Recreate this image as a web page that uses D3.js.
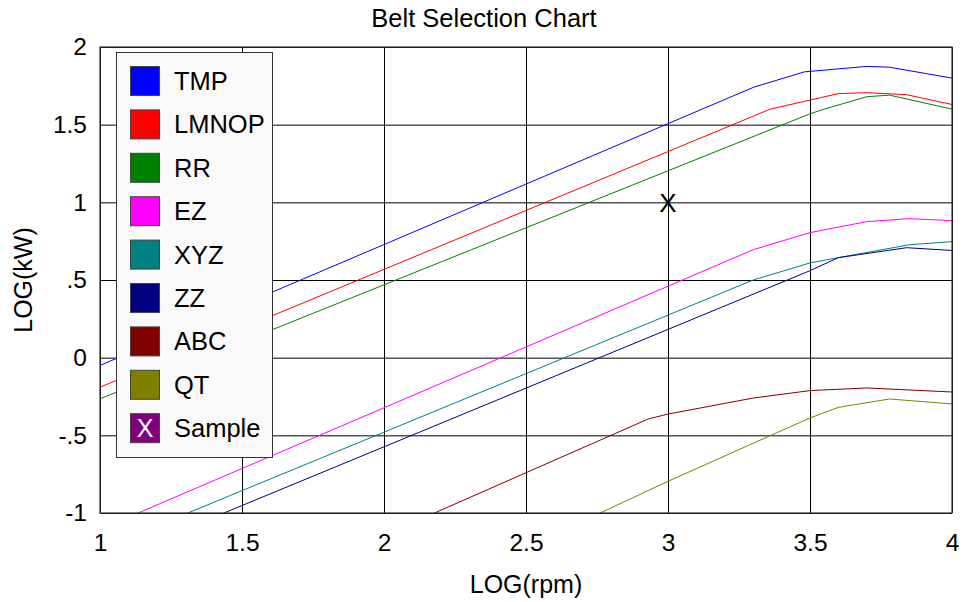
<!DOCTYPE html>
<html>
<head>
<meta charset="utf-8">
<script src="https://cdn.jsdelivr.net/npm/d3@7"></script>
<style>
  html, body { margin: 0; padding: 0; background: #fff; }
  svg { display: block; font-family: "Liberation Sans", Arial, sans-serif; }
</style>
</head>
<body>
<svg id="chart" width="964" height="602"></svg>
<script>
// ---- data ----
const seriesNames = ["TMP", "LMNOP", "RR", "EZ", "XYZ", "ZZ", "ABC", "QT"];
const seriesColors = ["#0000ff", "#ff0000", "#008000", "#ff00ff", "#008080", "#000080", "#800000", "#808000"];
const TMP   = [[1.0,-0.05],[3.3,1.74],[3.48,1.84],[3.7,1.875],[3.78,1.87],[4.0,1.80]];
const LMNOP = [[1.0,-0.19],[3.36,1.60],[3.6,1.70],[3.7,1.706],[3.84,1.693],[4.0,1.63]];
const RR    = [[1.0,-0.265],[3.5,1.57],[3.55,1.60],[3.7,1.68],[3.78,1.69],[4.0,1.60]];
const EZ    = [[1.0,-1.105],[3.3,0.695],[3.5,0.805],[3.7,0.876],[3.85,0.895],[4.0,0.882]];
const XYZ   = [[1.0,-1.233],[3.3,0.50],[3.5,0.61],[3.6,0.644],[3.85,0.727],[4.0,0.747]];
const ZZ    = [[1.0,-1.33],[3.5,0.56],[3.6,0.644],[3.84,0.708],[4.0,0.69]];
const ABC   = [[2.0,-1.143],[2.93,-0.395],[3.0,-0.363],[3.3,-0.26],[3.5,-0.212],[3.7,-0.195],[4.0,-0.221]];
const QT    = [[2.6,-1.138],[3.0,-0.796],[3.5,-0.388],[3.6,-0.32],[3.78,-0.266],[4.0,-0.298]];
const sampleName = "Sample";
const sampleColor = "#800080";
const samplePoint = [3.0, 1.0];
const xTicks = [1, 1.5, 2, 2.5, 3, 3.5, 4];
const xTickLabels = ["1", "1.5", "2", "2.5", "3", "3.5", "4"];
const yTicks = [2, 1.5, 1, 0.5, 0, -0.5, -1];
const yTickLabels = ["2", "1.5", "1", ".5", "0", "-.5", "-1"];
const seriesData = [TMP, LMNOP, RR, EZ, XYZ, ZZ, ABC, QT];

// ---- layout ----
const svg = d3.select("#chart");
const L = 100, R = 952, T = 47, B = 513;
const x = d3.scaleLinear().domain([1, 4]).range([L, R]);
const y = d3.scaleLinear().domain([-1, 2]).range([B, T]);

svg.append("defs").append("clipPath").attr("id", "plotclip")
  .append("rect").attr("x", L).attr("y", T).attr("width", R - L).attr("height", B - T);

// grid
svg.append("g").attr("transform", `translate(0,${B})`)
  .call(d3.axisBottom(x).tickValues(xTicks).tickSize(-(B - T)).tickFormat(""))
  .call(g => g.select(".domain").remove())
  .call(g => g.selectAll("line").attr("stroke", "#000").attr("stroke-width", 1));
svg.append("g").attr("transform", `translate(${L},0)`)
  .call(d3.axisLeft(y).tickValues(yTicks).tickSize(-(R - L)).tickFormat(""))
  .call(g => g.select(".domain").remove())
  .call(g => g.selectAll("line").attr("stroke", "#000").attr("stroke-width", 1));

// tick labels
svg.append("g").attr("transform", `translate(0,${B})`)
  .call(d3.axisBottom(x).tickValues(xTicks).tickSize(0).tickPadding(21)
    .tickFormat((d, i) => xTickLabels[i]))
  .call(g => g.select(".domain").remove())
  .call(g => g.selectAll("text").attr("font-size", 24.5).attr("fill", "#000")
    .attr("font-family", "'Liberation Sans', Arial, sans-serif"));
svg.append("g").attr("transform", `translate(${L},0)`)
  .call(d3.axisLeft(y).tickValues(yTicks).tickSize(0).tickPadding(13)
    .tickFormat((d, i) => yTickLabels[i]))
  .call(g => g.select(".domain").remove())
  .call(g => g.selectAll("text").attr("font-size", 24.5).attr("fill", "#000")
    .attr("font-family", "'Liberation Sans', Arial, sans-serif"));

// lines
const line = d3.line().x(d => x(d[0])).y(d => y(d[1]));
const lg = svg.append("g").attr("clip-path", "url(#plotclip)");
seriesData.forEach((s, i) => {
  lg.append("path").datum(s).attr("d", line)
    .attr("fill", "none").attr("stroke", seriesColors[i]).attr("stroke-width", 1);
});

// sample marker
svg.append("text").attr("x", x(samplePoint[0])).attr("y", y(samplePoint[1]))
  .attr("text-anchor", "middle").attr("dy", "0.36em")
  .attr("font-size", 26).attr("fill", "#000").text("X");

// frame
svg.append("rect").attr("x", L).attr("y", T).attr("width", R - L).attr("height", B - T)
  .attr("fill", "none").attr("stroke", "#333").attr("stroke-width", 1.2);

// titles
svg.append("text").attr("x", 484).attr("y", 27).attr("text-anchor", "middle")
  .attr("font-size", 25.5).attr("fill", "#000").text("Belt Selection Chart");
svg.append("text").attr("x", (L + R) / 2).attr("y", 593).attr("text-anchor", "middle")
  .attr("font-size", 25).attr("fill", "#000").text("LOG(rpm)");
svg.append("text").attr("transform", `translate(32,${(T + B) / 2}) rotate(-90)`)
  .attr("text-anchor", "middle").attr("font-size", 25).attr("fill", "#000").text("LOG(kW)");

// legend
const legNames = seriesNames.concat([sampleName]);
const legColors = seriesColors.concat([sampleColor]);
const leg = svg.append("g");
leg.append("rect").attr("x", 116.5).attr("y", 52.5).attr("width", 156).attr("height", 405)
  .attr("fill", "#f9f9f9").attr("stroke", "#333").attr("stroke-width", 1);
legNames.forEach((n, i) => {
  const top = 66.5 + i * 43.4;
  leg.append("rect").attr("x", 130.5).attr("y", top).attr("width", 29).attr("height", 29)
    .attr("fill", legColors[i]).attr("stroke", "#444").attr("stroke-width", 1);
  if (n === sampleName) {
    leg.append("text").attr("x", 145).attr("y", top + 14.5).attr("dy", "0.36em")
      .attr("text-anchor", "middle").attr("font-size", 25).attr("fill", "#fff").text("X");
  }
  leg.append("text").attr("x", 174).attr("y", top + 23.5)
    .attr("font-size", 25.5).attr("fill", "#000").text(n);
});
</script>
</body>
</html>
